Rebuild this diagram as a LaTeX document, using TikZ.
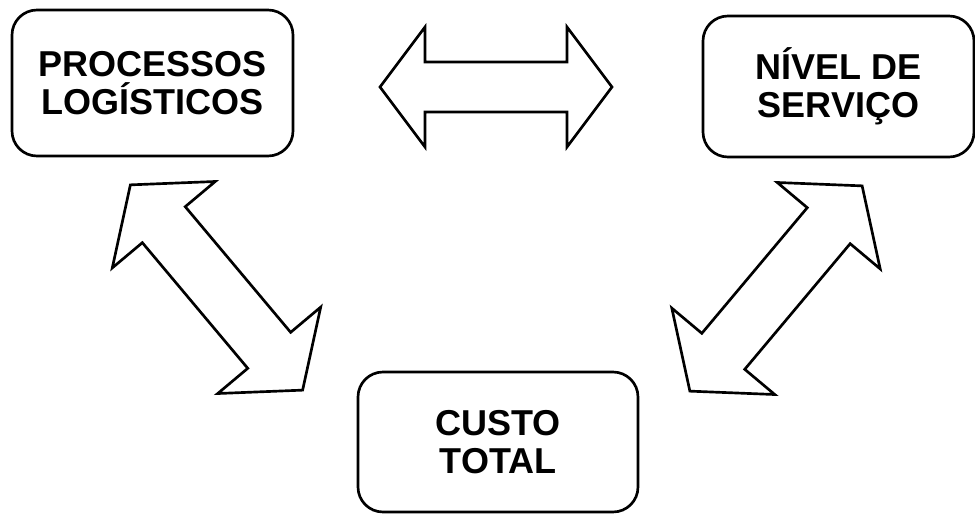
\documentclass[tikz,border=0pt]{standalone}
\usepackage{fontspec}
\setmainfont{Liberation Sans}
\tikzset{
	caixa/.style={draw, line width=2pt, rounded corners=18.75pt, align=center, inner sep=0pt,
		font=\fontsize{27}{28.5}\selectfont\bfseries},
	seta/.style={draw, line width=2pt, fill=white},
}
% seta dupla vazada: centro, angulo, escala no comprimento, escala na largura
\newcommand{\setadupla}[4]{%
	\draw[seta, shift={#1}, rotate=#2, xscale=#3, yscale=#4]
		(-116,0) -- (-71,60) -- (-71,25) -- (71,25) -- (71,60) -- (116,0)
		-- (71,-60) -- (71,-25) -- (-71,-25) -- (-71,-60) -- cycle;}
\begin{document}
\begin{tikzpicture}[x=0.75pt, y=-0.75pt]
		\useasboundingbox (0,0) rectangle (975,514);
		\node[caixa, minimum width=210.75pt, minimum height=109.5pt] (proc) at (152.5,83) {PROCESSOS\\LOGÍSTICOS};
		\node[caixa, minimum width=203.25pt, minimum height=105.75pt] (nivel) at (838.5,86.5) {NÍVEL DE\\SERVIÇO};
		\node[caixa, minimum width=210pt, minimum height=105pt] (custo) at (498,442) {CUSTO\\TOTAL};
		\setadupla{(496,87)}{0}{1}{1}
		\setadupla{(216.5,287.5)}{-50}{1.155}{1.12}
		\setadupla{(776,288.5)}{50}{1.155}{1.12}
	\end{tikzpicture}
\end{document}
